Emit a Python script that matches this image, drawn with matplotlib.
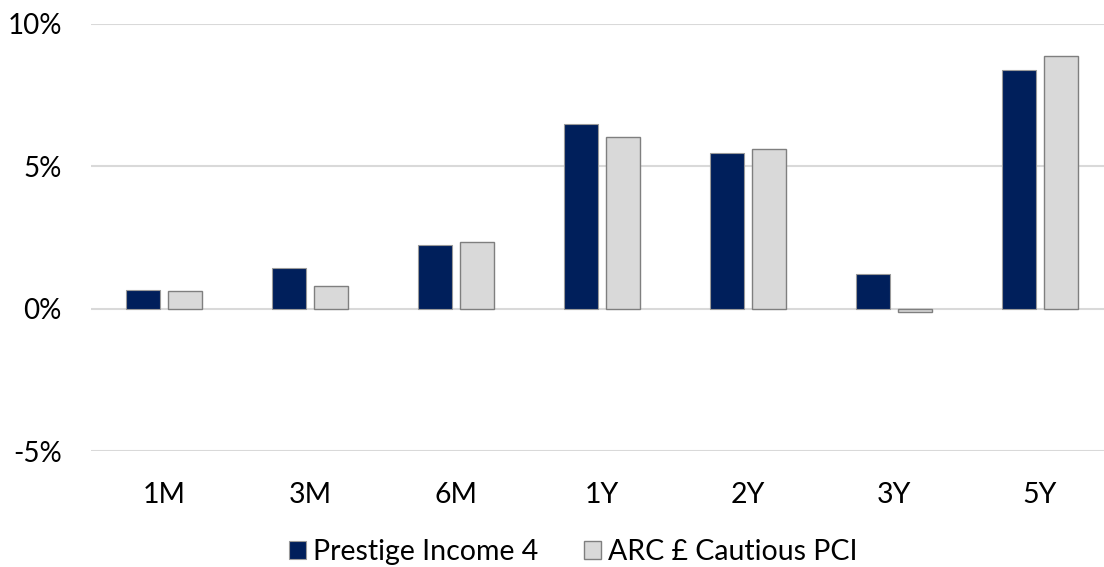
import matplotlib.pyplot as plt
import numpy as np
from matplotlib.ticker import FuncFormatter

# Rendimientos por periodo (%)
periodos = ['1M', '3M', '6M', '1Y', '2Y', '3Y', '5Y']
prestige = [0.64, 1.43, 2.25, 6.48, 5.48, 1.21, 8.40]
arc = [0.62, 0.80, 2.35, 6.04, 5.62, -0.13, 8.87]
series = ['Prestige Income 4', 'ARC £ Cautious PCI']

plt.rcParams['font.family'] = ['Lato', 'DejaVu Sans']

fig = plt.figure(figsize=(11.04, 5.67), dpi=100)
ax = fig.add_axes([91 / 1104, 116 / 567, 1022 / 1104, 427 / 567])

x = np.arange(len(periodos))
ancho = 0.23
desp = 0.1425
ax.bar(x - desp, prestige, ancho, color='#001F5B', edgecolor='#9a9a9a',
       linewidth=0.8, label=series[0], zorder=3)
ax.bar(x + desp, arc, ancho, color='#D9D9D9', edgecolor='#7f7f7f',
       linewidth=1.0, label=series[1], zorder=3)

ax.set_xlim(-0.5, len(periodos) - 0.5)
ax.set_ylim(-5, 10)
ax.set_yticks([-5, 0, 5, 10])
ax.yaxis.set_major_formatter(FuncFormatter(lambda v, p: f'{v:.0f}%'))
ax.set_xticks(x)
ax.set_xticklabels(periodos)

ax.grid(axis='y', color='#D9D9D9', linewidth=1.5, zorder=0)
for s in ax.spines.values():
    s.set_visible(False)
ax.tick_params(axis='y', length=0, pad=21, labelsize=20)
ax.tick_params(axis='x', length=0, pad=22, labelsize=20.5)

handles, labels = ax.get_legend_handles_labels()
fig.legend(handles, labels, loc='center', bbox_to_anchor=(573 / 1104, 1 - 552 / 567),
           ncol=2, frameon=False, fontsize=20.5, handlelength=0.6, handleheight=0.6,
           handletextpad=0.25, columnspacing=1.6, borderpad=0)

fig.savefig('out.png', dpi=100)
